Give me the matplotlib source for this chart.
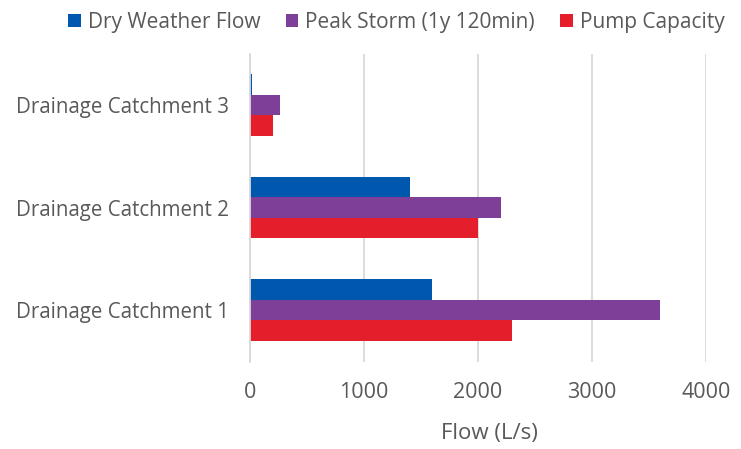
import matplotlib.pyplot as plt
import numpy as np

categories = ['Drainage Catchment 1', 'Drainage Catchment 2', 'Drainage Catchment 3']
dry_weather = [1600, 1400, 20]
peak_storm = [3600, 2200, 260]
pump_capacity = [2300, 2000, 200]

series_names = ['Dry Weather Flow', 'Peak Storm (1y 120min)', 'Pump Capacity']
colors = ['#0058AE', '#7E3F98', '#E41F2B']
text_col = '#595959'

plt.rcParams['font.family'] = ['Open Sans', 'DejaVu Sans']

fig = plt.figure(figsize=(7.41, 4.49), dpi=100)
ax = fig.add_axes([250 / 741, 1 - 361.5 / 449, 456 / 741, 308 / 449])

y = np.arange(len(categories))
h = 0.2
# Excel draws the first series on top within each category
for i, (vals, name, c) in enumerate(zip([dry_weather, peak_storm, pump_capacity], series_names, colors)):
    ax.barh(y + (1 - i) * h, vals, height=h, color=c, label=name, zorder=3)

ax.set_xlim(0, 4000)
ax.set_ylim(-0.5, 2.5)
ax.set_xticks([0, 1000, 2000, 3000, 4000])
ax.set_yticks(y)
ax.set_yticklabels(categories)
ax.grid(axis='x', color='#D9D9D9', linewidth=1.3, zorder=0)

for s in ['top', 'right', 'bottom']:
    ax.spines[s].set_visible(False)
ax.spines['left'].set_color('#D9D9D9')
ax.spines['left'].set_linewidth(1.3)
ax.spines['left'].set_zorder(4)

ax.tick_params(axis='x', length=0, pad=15, labelsize=15.5, labelcolor=text_col)
ax.tick_params(axis='y', length=0, pad=15, labelsize=14.8, labelcolor=text_col)

ax.set_xlabel('Flow (L/s)', fontsize=16, color=text_col)
ax.xaxis.set_label_coords(0.524, -0.2)

leg = fig.legend(loc='upper center', bbox_to_anchor=(0.535, 1.015), ncol=3, frameon=False,
                 fontsize=15, handlelength=0.6, handleheight=0.6, handletextpad=0.35,
                 columnspacing=1.2)
for t in leg.get_texts():
    t.set_color(text_col)

fig.savefig('out.png', dpi=100)
